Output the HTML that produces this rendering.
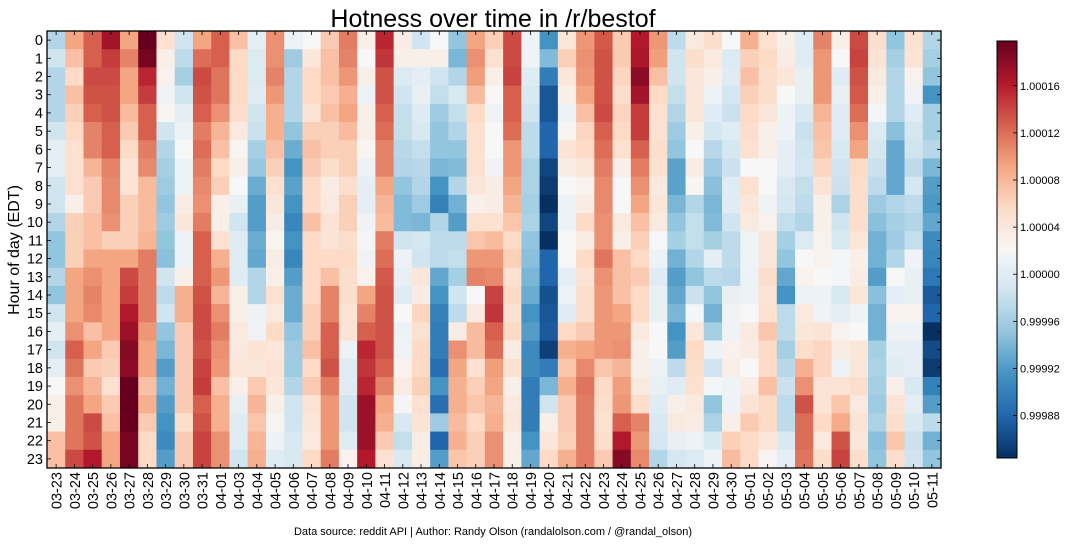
<!DOCTYPE html>
<html><head><meta charset="utf-8"><style>
html,body{margin:0;padding:0;background:#fff;width:1067px;height:544px;overflow:hidden}
svg{display:block;font-family:"Liberation Sans",sans-serif}
</style></head><body>
<svg id="chart" width="1067" height="544" viewBox="0 0 1067 544">
<text x="493" y="27" font-size="25" text-anchor="middle" fill="#000">Hotness over time in /r/bestof</text>
<text transform="translate(19,250) rotate(-90)" font-size="16" text-anchor="middle" fill="#000">Hour of day (EDT)</text>
<text x="493" y="535" font-size="11" text-anchor="middle" fill="#000">Data source: reddit API | Author: Randy Olson (randalolson.com / @randal_olson)</text>
<g id="cells"></g>
<g id="axes"></g>
<defs><linearGradient id="cbgrad" x1="0" y1="1" x2="0" y2="0"></linearGradient></defs>
<g id="cbar"></g>
</svg>
<script>
// Column categories (dates)
const dates = ["03-23","03-24","03-25","03-26","03-27","03-28","03-29","03-30","03-31","04-01","04-03","04-04","04-05","04-06","04-07","04-08","04-09","04-10","04-11","04-12","04-13","04-14","04-15","04-16","04-17","04-18","04-19","04-20","04-21","04-22","04-23","04-24","04-25","04-26","04-27","04-28","04-29","04-30","05-01","05-02","05-03","05-04","05-05","05-06","05-07","05-08","05-09","05-10","05-11"];
const hours = [0,1,2,3,4,5,6,7,8,9,10,11,12,13,14,15,16,17,18,19,20,21,22,23];
// Hotness per date (24 hourly values), expressed in colour-scale units (-5 .. 5)
const hotness = [
[-1.5,-1,-1.5,-1.5,-1.5,-1,-0.5,-0.5,-1,-1,-1.5,-2,-2,-1.5,-2,-1,-0.5,-1,-0.5,0,0.3,0.3,1.5,1.5],
[2,1.5,1,1.5,1.2,1,0.8,0.8,0.8,0.3,1.2,1.2,1.2,2,2,2,2.3,3,2.7,2.3,2.7,2.7,2.7,3.3],
[3,3,3.3,3.2,3,2.5,2.5,1.7,1.3,1.3,1.5,1.5,2,2.3,2.5,2.4,1.5,2,1.3,1.7,2,3.3,3.2,4],
[4.2,3.5,3.3,3.2,3.2,3,3,2.5,2.4,2.4,2.3,1.2,2,2,2,2,2,1.3,1.2,0.8,1.3,1.5,2,2],
[2,2.5,2,2,1.6,1.3,1,0.7,0.7,1.2,1.2,1.2,2,3.3,3.5,4,4.3,4.6,4.5,5,5,5,4.8,4.8],
[5,4.8,3.8,3.5,3,3,2.6,2.4,1.6,1.6,1.6,1.7,2.6,2.6,2.6,2.6,2.2,2,2,1.5,1.8,1.3,1,1],
[0.8,0.3,0.2,-0.2,0.1,-1,-1.5,-1.7,-1.8,-2,-1.8,-2,-2.1,-1,-1.3,-1,-2,-2.3,-2.8,-2.4,-2.8,-3,-3.2,-2.8],
[-1,-1.3,-1.7,-1,-0.5,-0.3,0,-0.3,-0.3,0.4,0.6,-0.3,-0.3,0.3,1.8,1.8,1.3,1.3,1.3,1.3,1.3,0.9,1.3,1.3],
[2,2.8,3.3,3.2,3,2.6,2.8,2.6,2.4,2.3,2.6,3,3,3,3.2,3.3,3.3,3.2,3.4,3.5,3,3.2,3.4,3.4],
[3,3,2.7,2.7,2.3,1.7,1.5,1,1.2,0.3,0.3,0.8,1.8,2.2,1.7,2.3,2.6,2.3,2.2,1.5,1.8,1.8,2.3,2.3],
[1.5,1,1,1,0.9,0.5,0.1,0.3,0,-0.4,-1,-0.6,-0.6,-0.6,0.3,0.3,0.5,0.5,0.6,0.3,-0.4,-0.6,-0.6,-1],
[-0.5,-0.7,-0.7,-0.6,-1,-1.1,-1.7,-1.9,-2.5,-2.8,-2.8,-2.5,-2.6,-1.5,-1.5,-0.3,-0.2,0.7,0.6,1.3,1.7,1.4,1.7,1.8],
[2.3,2.3,2.5,2.2,1.8,1.8,1.5,1.2,0.8,0.6,0.4,0.1,0.4,0.3,0.8,0.5,1,0.6,0.7,0.6,0.3,0.1,-0.3,-0.6],
[-0.3,-1.8,-1.5,-1.5,-1.5,-2,-2.5,-3,-2.7,-3,-3.3,-3,-3.3,-2.8,-2.5,-2.5,-2,-1.8,-1.8,-1.5,-1,-1,-0.8,-0.8],
[0,0.6,1,1,0.7,1.2,1.5,1.3,1,1,1.5,1,1,1,1,1.2,1.2,1.5,1,1.3,0.7,0.6,0.5,1],
[1.3,1.5,1.5,1.3,1.5,1.2,1.2,0.9,0.4,0.5,0.7,0.7,1,1.5,2.5,2.5,3,3,3.2,2.6,2.2,2.2,2.2,2.6],
[2.6,2.5,2.2,1.8,2,1.6,1.2,1.2,0.9,1.2,1.2,0.9,1,0.9,0.9,0.7,0.7,-0.3,-0.6,-0.6,-1,-1,-0.6,0.2],
[0.3,0,0.3,-0.3,0.3,0.3,0.1,-0.3,-0.5,-0.5,-0.2,-0.1,-0.2,0.2,2,2.5,3,3.8,3.6,3.8,4.3,4.3,4.3,4],
[3.8,3.6,3.2,3.2,3,2.8,2.5,2.5,2,1.7,1.6,2.6,2.8,3.1,3.2,3.2,3.2,3.2,3,2.5,2,1.8,1.3,0.8],
[0.4,0.3,-0.7,-1,-1.2,-1.2,-1.4,-1.5,-2,-2.2,-2.2,-1,-0.3,-0.4,-0.6,0,-0.3,-0.2,0.2,0.4,-0.1,-0.8,-1.2,-0.8],
[-1,0.3,-0.5,-0.4,-0.7,-0.8,-1.2,-1.4,-1.5,-1.8,-2.3,-0.9,-1,0.6,0.4,1.1,0.8,1,1,1.2,0.8,0.7,0.4,0.4],
[0,0.3,-1,-1.2,-1.8,-2,-2,-2.3,-3,-3.4,-1.5,-1.3,-1.3,-2.6,-3,-3.4,-3.5,-3.5,-3.8,-3,-3.8,-1.8,-4,-2.8],
[-2,-2.3,-1.5,-0.8,-1.2,-1.5,-2,-2.2,-1.5,-2.4,-2.8,-1.3,-1.2,-1.7,-1,-1.3,0.4,2.3,2,1.8,1.8,1.6,1.8,1.4],
[2,2.3,2.1,1.6,1,0.8,0.8,0.8,0.6,0.3,0.8,1.4,2.2,2.5,0,0.5,1.6,1.6,0.8,1.2,1.4,1,1.2,1.2],
[1.2,0.8,0.3,0,-0.2,0,0,-0.2,0.4,0.4,0.8,1.6,2.2,2.4,3.4,3.6,3,2.8,2.1,2,1.7,1.8,2.3,2.3],
[3.3,3.3,3.4,3,3,2.8,2.2,2.2,2,1.7,1.4,1,1.2,0.8,1,0.8,1,0.4,0.8,0.3,0.5,0.6,0.3,0.3],
[-0.2,-0.2,-0.6,-0.8,-1,-1.3,-1.3,-1.6,-1.6,-1.7,-1.6,-2,-2.1,-2.3,-2.5,-3,-2.8,-3.2,-3.2,-3.5,-3.5,-3.5,-3,-2.6],
[-3,-2.2,-3.5,-4.3,-4.3,-4,-4,-4.6,-4.8,-5,-4.6,-5,-4,-4,-4.4,-4.3,-4.2,-4.7,-3.5,-2.3,-1,0.3,0.6,1],
[0.6,1.2,0.6,0.3,-0.3,0.1,0.7,0.4,0,-0.3,-0.3,0,0,-0.5,-0.3,-0.6,1,1.8,1.4,1.8,1.3,1.3,1.2,1.8],
[2.2,2.3,2.2,2,1.5,1.1,1,0.6,0.2,0.4,1,0.4,1,0.7,0.9,0.9,1.3,2,2.4,2.7,2.6,2.6,2.6,2.6],
[3.1,3.2,3.2,3.2,3.3,3,2.8,2.6,2.4,2.4,2.3,2.3,2.7,2.3,2.2,2.2,2.2,2.2,1.4,1,0.9,0.8,0.9,1.3],
[1.3,1.3,1.1,0.9,1.1,1,0.8,0.3,0,0,0.5,0.3,1.5,1.5,1.5,2,2.2,2.3,1.7,2.1,2.2,3,4,4.6],
[4,4.1,4.5,4.2,3.5,3.5,3,2.6,2.3,2,1.5,1.2,1,1.3,1,1,0.5,0.3,0.3,0.5,0.9,2.5,2.2,2.4],
[2.2,2.1,1.5,1,0.8,0.8,0.9,0.8,0.5,0.6,0.5,0,-0.3,-0.6,-0.4,-0.4,0,0,-0.3,-0.4,-0.6,-0.8,-0.9,-1.5],
[-1.3,-1,-1,-1.2,-1.5,-1.8,-2,-2.7,-2.7,-2.3,-2,-1.7,-2.4,-2.8,-2.6,-2.3,-3,-2.8,-1.3,-0.6,0.3,0.5,-0.4,-0.9],
[0.5,0.9,0.6,0.6,0.6,0.3,0,0.4,0.1,-1.5,-1.2,-1.2,-1.5,-2,-1.1,-0.1,0.6,1,0.9,0.8,0.5,0.4,-0.3,-0.7],
[0.9,0.5,0.3,-0.3,-0.6,-0.9,-1.4,-1.8,-2.1,-2.3,-2.2,-1.7,-0.5,-1.3,-2,-2.4,-1.7,-0.3,-1,-0.1,-2,-1.6,-0.8,-0.3],
[0,-0.7,-0.6,-0.9,-1.1,-0.6,-0.9,-1.1,-0.6,-0.6,-1,-1.3,-1.3,-1.4,-0.4,-0.2,-0.2,0.2,0.3,-0.2,-0.3,0.3,1.2,1.6],
[1.8,1.2,1.5,1.2,1,0.9,0.8,0,0.8,0.6,0.5,-0.2,-0.2,-0.3,-0.3,0,0.5,0.4,0,0.4,0.7,1.3,1,1],
[0.8,1,0.9,0.9,0.6,0.3,0.3,0,0,-0.2,0.2,0.6,0.6,0.9,0.7,0.8,1.4,1,1,1.5,1,1,0.6,0.1],
[0.3,0.4,0.6,0,-0.3,-0.3,-0.5,-0.5,-0.8,-0.9,-1.2,-1.7,-2,-2.6,-3,-1.3,-1.3,-1.7,-1.4,-1.1,-1.3,-1.3,-0.8,-0.5],
[-0.6,-0.6,-0.4,-0.4,-0.8,-1.1,-1,-0.9,-1.2,-1.3,-1.5,-0.7,0,0.2,-0.3,0.5,0.6,0.9,1.8,2.3,3.2,2.8,2.8,2.7],
[2.5,2.2,2.2,2.2,1.7,1.5,1.4,1.1,0.7,0.3,0.3,0.2,0.2,0,-0.3,-0.2,0.7,1.1,1.1,0.7,0.7,1,0.5,0.9],
[0.3,0,-0.6,-0.4,-0.6,-0.6,-0.8,-1,-1.1,-1.6,-1,-0.8,-0.1,-0.1,-0.8,-0.5,0.2,0.4,-0.3,0.7,1.4,1.9,3.2,3.4],
[3.3,3.4,3.2,3.1,2.8,2.3,2,1,0.9,0.9,0.9,0.6,0.3,0.4,0.6,-0.2,0,0.6,0.6,0.9,0.5,0.7,0.6,0.9],
[0.9,0.7,0.5,0.3,-0.1,-0.7,-0.9,-1.1,-1.3,-1.8,-2.1,-2.4,-2.4,-2.8,-2.1,-2.4,-2.4,-1.7,-1.6,-1.7,-1.8,-1.6,-2.1,-2],
[-2,-1.7,-1.5,-1.5,-1.5,-2.1,-2.6,-2.6,-2.6,-1.5,-1.7,-1.8,-1.5,0,-0.5,0.2,-0.3,-0.5,-0.6,0.3,0.7,0.9,1.4,0.9],
[0.8,0.7,0.2,-0.2,-0.6,-0.9,-1,-1.3,-0.9,-1.3,-1.5,-1.2,-0.2,-0.4,-0.4,0.2,-0.3,-0.5,-0.5,-0.8,-0.5,-0.8,-1.1,-1],
[-1.5,-1.7,-2,-3,-1.7,-1.7,-1.4,-2.3,-2.8,-2.9,-2.6,-3.2,-3.3,-3.6,-4.2,-4,-5,-4.5,-4.8,-3.4,-2.8,-1.3,-2.4,-2]
];
const cbarTickLabels = ["0.99988","0.99992","0.99996","1.00000","1.00004","1.00008","1.00012","1.00016"];

const NS = "http://www.w3.org/2000/svg";
const PX0 = 47, PX1 = 941, PY0 = 31, PY1 = 468;
const stops = ["#053061","#2166ac","#4393c3","#92c5de","#d1e5f0","#f7f7f7","#fddbc7","#f4a582","#d6604d","#b2182b","#67001f"];
function hex(c){return [parseInt(c.slice(1,3),16),parseInt(c.slice(3,5),16),parseInt(c.slice(5,7),16)];}
function color(v){
  let t = Math.max(0, Math.min(1, (v + 5) / 10)) * 10;
  let i = Math.min(9, Math.floor(t)), f = t - i;
  const a = hex(stops[i]), b = hex(stops[i+1]);
  return "rgb(" + a.map((x,k)=>Math.round(x + (b[k]-x)*f)).join(",") + ")";
}
const cw = (PX1 - PX0) / dates.length, rh = (PY1 - PY0) / hours.length;
function xPos(i){return PX0 + i * cw;}
function yPos(j){return PY0 + j * rh;}
function el(tag, attrs, parent){const e = document.createElementNS(NS, tag); for (const k in attrs) e.setAttribute(k, attrs[k]); parent.appendChild(e); return e;}

const cells = document.getElementById("cells");
dates.forEach((d, i) => {
  hours.forEach((h, j) => {
    const r = el("rect", {x: xPos(i).toFixed(2), y: yPos(j).toFixed(2), width: (cw + 0.4).toFixed(2), height: (rh + 0.4).toFixed(2), fill: color(hotness[i][j])}, cells);
    
    
  });
});

const axes = document.getElementById("axes");
const frame = el("rect", {x: PX0, y: PY0, width: PX1 - PX0, height: PY1 - PY0, fill: "none", stroke: "#000", "stroke-width": 1.3}, axes);


dates.forEach((d, i) => {
  const cx = xPos(i) + cw / 2;
  el("line", {x1: cx, x2: cx, y1: PY1, y2: PY1 - 4, stroke: "#000", "stroke-width": 0.8}, axes);
  el("line", {x1: cx, x2: cx, y1: PY0, y2: PY0 + 4, stroke: "#000", "stroke-width": 0.8}, axes);
  const t = el("text", {transform: "translate(" + (cx + 5.5).toFixed(2) + "," + (PY1 + 4) + ") rotate(-90)", "font-size": 14.5, "text-anchor": "end", fill: "#000"}, axes);
  t.textContent = d;
  
  
});
hours.forEach((h, j) => {
  const cy = yPos(j) + rh / 2;
  el("line", {x1: PX0, x2: PX0 + 4, y1: cy, y2: cy, stroke: "#000", "stroke-width": 0.8}, axes);
  el("line", {x1: PX1, x2: PX1 - 4, y1: cy, y2: cy, stroke: "#000", "stroke-width": 0.8}, axes);
  const t = el("text", {x: PX0 - 4, y: cy + 5, "font-size": 14.5, "text-anchor": "end", fill: "#000"}, axes);
  t.textContent = h;
  
  
});

// colorbar
const grad = document.getElementById("cbgrad");
stops.forEach((c, k) => el("stop", {offset: (k / 10), "stop-color": c}, grad));
const cb = document.getElementById("cbar");
const CX0 = 997, CX1 = 1017, CY0 = 41, CY1 = 458;
el("rect", {x: CX0, y: CY0, width: CX1 - CX0, height: CY1 - CY0, fill: "url(#cbgrad)", stroke: "#000", "stroke-width": 1}, cb);
function cbY(label){ const lvl = ((parseFloat(label) - 1) * 1e5 - 2.1) / 3.54; return CY0 + (5 - lvl) / 10 * (CY1 - CY0); }
cbarTickLabels.forEach(lb => {
  const y = cbY(lb);
  el("line", {x1: CX1, x2: CX1 - 4, y1: y, y2: y, stroke: "#000", "stroke-width": 0.8}, cb);
  const t = el("text", {x: CX1 + 3, y: y + 4, "font-size": 11, fill: "#000"}, cb);
  t.textContent = lb;
  
  
});
</script>
</body></html>
